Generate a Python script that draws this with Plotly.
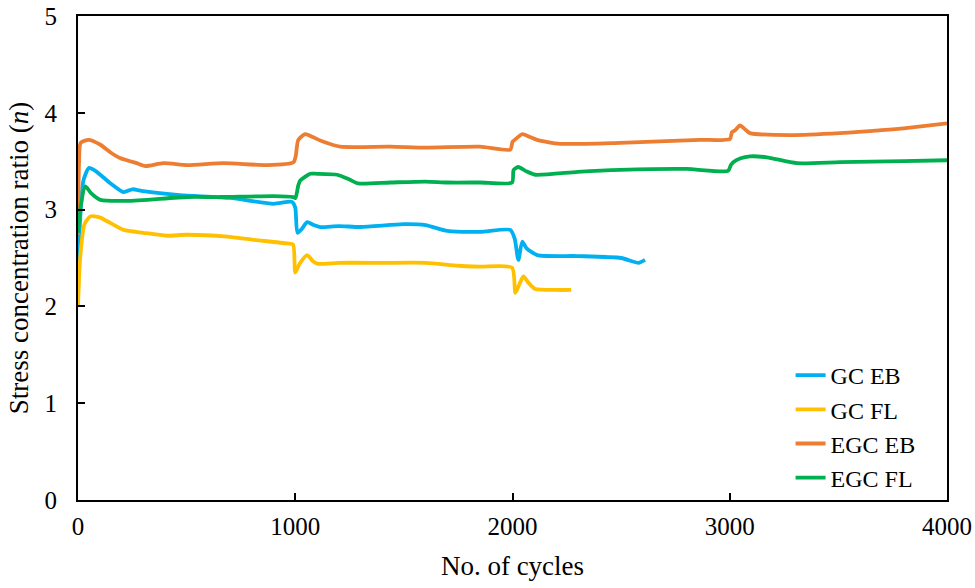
import plotly.graph_objects as go

# GC EB
gc_eb_x = [0, 10, 25, 50, 80, 150, 210, 250, 300, 470, 700, 900, 985, 1000, 1010, 1030, 1055, 1085, 1115,
           1200, 1300, 1500, 1600, 1700, 1850, 1990, 2010, 2027, 2045, 2065, 2114, 2300, 2500, 2580, 2610]
gc_eb_y = [2.35, 2.9, 3.3, 3.43, 3.40, 3.27, 3.18, 3.21, 3.19, 3.15, 3.12, 3.06, 3.08, 3.02, 2.76, 2.80, 2.87,
           2.84, 2.82, 2.83, 2.82, 2.85, 2.84, 2.78, 2.77, 2.79, 2.70, 2.48, 2.67, 2.60, 2.53, 2.52, 2.50, 2.45, 2.48]

# GC FL
gc_fl_x = [0, 10, 30, 57, 100, 150, 210, 300, 410, 500, 687, 800, 963, 990, 1000, 1020, 1055, 1080, 1106,
           1200, 1400, 1600, 1750, 1850, 1998, 2013, 2030, 2050, 2075, 2105, 2200, 2270]
gc_fl_y = [2.0, 2.5, 2.85, 2.93, 2.92, 2.86, 2.79, 2.76, 2.73, 2.74, 2.72, 2.69, 2.65, 2.64, 2.35, 2.44, 2.53,
           2.47, 2.44, 2.45, 2.45, 2.45, 2.42, 2.41, 2.40, 2.14, 2.22, 2.31, 2.24, 2.18, 2.17, 2.17]

# EGC EB
egc_eb_x = [0, 5, 12, 48, 103, 150, 196, 240, 270, 310, 393, 503, 670, 872, 992, 1002, 1014, 1046, 1080,
            1130, 1207, 1437, 1600, 1850, 1990, 2000, 2010, 2045, 2080, 2113, 2220, 2496, 2863, 3001, 3010,
            3025, 3047, 3070, 3093, 3277, 3507, 3700, 3800, 4000]
egc_eb_y = [2.74, 3.5, 3.69, 3.72, 3.67, 3.59, 3.53, 3.50, 3.48, 3.45, 3.48, 3.46, 3.48, 3.46, 3.49, 3.55,
            3.72, 3.78, 3.75, 3.70, 3.65, 3.65, 3.64, 3.65, 3.62, 3.70, 3.72, 3.78, 3.75, 3.72, 3.68, 3.69,
            3.72, 3.73, 3.80, 3.82, 3.87, 3.83, 3.79, 3.77, 3.79, 3.82, 3.84, 3.89]

# EGC FL
egc_fl_x = [0, 10, 34, 60, 103, 227, 503, 655, 900, 990, 1001, 1014, 1023, 1069, 1101, 1193, 1250, 1290,
            1437, 1600, 1700, 1850, 1998, 2005, 2027, 2060, 2105, 2300, 2496, 2800, 2992, 3005, 3016, 3050,
            3093, 3171, 3309, 3507, 3800, 4000]
egc_fl_y = [2.76, 3.0, 3.24, 3.17, 3.10, 3.09, 3.13, 3.13, 3.14, 3.13, 3.12, 3.25, 3.30, 3.37, 3.37, 3.36,
            3.31, 3.27, 3.28, 3.29, 3.28, 3.28, 3.28, 3.41, 3.44, 3.40, 3.36, 3.39, 3.41, 3.42, 3.40, 3.46,
            3.49, 3.53, 3.55, 3.54, 3.48, 3.49, 3.50, 3.51]

series = [
    ("GC EB", gc_eb_x, gc_eb_y, "#00B0F0"),
    ("GC FL", gc_fl_x, gc_fl_y, "#FFC000"),
    ("EGC EB", egc_eb_x, egc_eb_y, "#ED7D31"),
    ("EGC FL", egc_fl_x, egc_fl_y, "#00B050"),
]

FONT = "Liberation Serif, DejaVu Serif, serif"

fig = go.Figure()
for name, xs, ys, col in series:
    fig.add_trace(go.Scatter(x=xs, y=ys, name=name, mode="lines",
                             line=dict(color=col, width=3.8, shape="spline", smoothing=0.6)))

fig.update_layout(
    width=975, height=588,
    margin=dict(l=78, r=28, t=16, b=88),
    paper_bgcolor="white", plot_bgcolor="white",
    font=dict(family=FONT, size=25, color="black"),
    showlegend=True,
    legend=dict(x=0.82, xanchor="left", y=0.0, yanchor="bottom",
                font=dict(family=FONT, size=24, color="black"),
                bgcolor="rgba(0,0,0,0)", tracegroupgap=0),
    xaxis=dict(range=[0, 4000], tickvals=[0, 1000, 2000, 3000, 4000], ticks="inside", ticklen=7,
               tickwidth=1.5, tickcolor="black", showline=True, linecolor="black", linewidth=2,
               mirror=True, showgrid=False, zeroline=False, ticklabelstandoff=3, automargin=False,
               title=dict(text="No. of cycles", font=dict(family=FONT, size=27), standoff=17),
               tickfont=dict(family=FONT, size=25)),
    yaxis=dict(range=[0, 5], tickvals=[0, 1, 2, 3, 4, 5], ticks="inside", ticklen=7,
               tickwidth=1.5, tickcolor="black", showline=True, linecolor="black", linewidth=2,
               mirror=True, showgrid=False, zeroline=False, ticklabelstandoff=14, automargin=False,
               title=dict(text="Stress concentration ratio (<i>n</i>)", font=dict(family=FONT, size=27),
                          standoff=8),
               tickfont=dict(family=FONT, size=25)),
)

fig.write_html("out.html")
